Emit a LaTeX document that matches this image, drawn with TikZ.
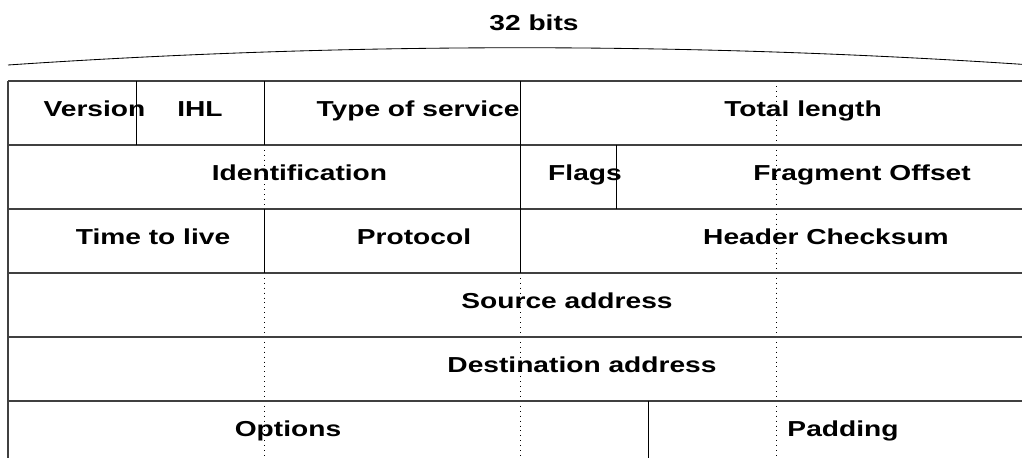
\documentclass[tikz,border=0pt]{standalone}
\usepackage{fontspec}
\setmainfont{Liberation Sans}
\usepackage{tikz}
\usetikzlibrary{positioning}
\tikzset{fld/.style={font=\bfseries\fontsize{15.4}{18}\selectfont,xscale=1.3,anchor=base,inner sep=0pt},
  hrule/.style={draw=black!75,line width=1pt},
  vrule/.style={draw=black,line width=0.5pt},
  guide/.style={draw=black,line width=0.5pt,dash pattern=on 0.7pt off 2.8pt}}

\begin{document}
\begin{tikzpicture}[x=0.025cm,y=-0.025cm]
        \useasboundingbox (0,0) rectangle (1022,458);
        \clip (0,0) rectangle (1022,458);

        \coordinate (bl) at (8,65);
        \coordinate (br) at (1032,65);
        \draw [line width=0.6pt] (bl) .. controls (349,42) and (691,42) .. (br);
        \node[fld] (bits) at (534,31) {32 bits};

        \foreach \x in {264,520,776}
            \draw [guide] (\x,81) -- (\x,465);
        \foreach \y in {81,145,209,273,337,401,465}
            \draw [hrule] (8,\y) -- (1032,\y);
        \draw [hrule] (8,81) -- (8,465);
        \draw [hrule] (1032,81) -- (1032,465);

        \draw [vrule] (136,81) -- (136,145);
        \draw [vrule] (264,81) -- (264,145);
        \draw [vrule] (520,81) -- (520,209);
        \draw [vrule] (616,145) -- (616,209);
        \draw [vrule] (264,209) -- (264,273);
        \draw [vrule] (520,209) -- (520,273);
        \draw [vrule] (648,401) -- (648,465);

        \node[fld] (version) at (94.5,117) {Version};
        \node[fld] (ihl) at (200,117) {IHL};
        \node[fld] (tos) at (418,117) {Type of service};
        \node[fld] (totlen) at (803,117) {Total length};

        \node[fld] (ident) at (299.5,181) {Identification};
        \node[fld] (flags) at (585,181) {Flags};
        \node[fld] (fragoff) at (862,181) {Fragment Offset};

        \node[fld] (ttl) at (153,245) {Time to live};
        \node[fld] (proto) at (414,245) {Protocol};
        \node[fld] (chksum) at (826,245) {Header Checksum};

        \node[fld] (src) at (567,309) {Source address};
        \node[fld] (dst) at (582,373) {Destination address};

        \node[fld] (opts) at (288,437) {Options};
        \node[fld] (pad) at (843,437) {Padding};
    \end{tikzpicture}
\end{document}
